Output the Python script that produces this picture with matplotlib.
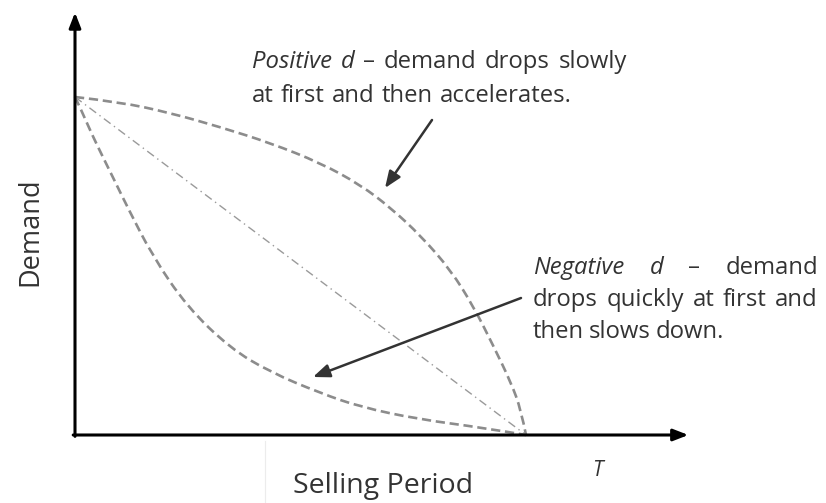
import matplotlib
matplotlib.use("Agg")
import matplotlib.pyplot as plt
from matplotlib.path import Path
from matplotlib.patches import PathPatch

# Curves (time as share of T, demand as share of start)
pos_t = [0, 0.1, 0.211, 0.322, 0.433, 0.544, 0.633, 0.7, 0.767, 0.833, 0.884, 0.929, 0.967, 0.989, 1.0]
pos_d = [1.0, 0.985, 0.953, 0.911, 0.864, 0.805, 0.740, 0.672, 0.589, 0.488, 0.379, 0.260, 0.154, 0.074, 0.0]
neg_t = [0, 0.011, 0.038, 0.062, 0.089, 0.116, 0.173, 0.249, 0.344, 0.433, 0.544, 0.633, 0.760, 0.907, 1.0]
neg_d = [1.0, 0.970, 0.888, 0.822, 0.749, 0.675, 0.527, 0.379, 0.257, 0.186, 0.124, 0.083, 0.047, 0.021, 0.0]
lin_t = [0, 1.0]
lin_d = [1.0, 0.0]

W, H = 826, 503
fig = plt.figure(figsize=(W / 100, H / 100), dpi=100)
ax = fig.add_axes([0, 0, 1, 1])
# origin at pixel (75, 435), T at x=526, start demand at y=97
ax.set_xlim(-75 / 451, (W - 75) / 451)
ax.set_ylim(-(H - 435) / 338, 435 / 338)
ax.axis("off")

font = "Open Sans"
fs = 17.2
tc = "#333333"

# axes with arrows
ax.annotate("", xy=(0, 1.25), xytext=(0, -0.004),
            arrowprops=dict(arrowstyle="-|>,head_length=0.9,head_width=0.35", color="black", lw=2.2,
                            shrinkA=0, shrinkB=0))
ax.annotate("", xy=(1.36, 0), xytext=(-0.004, 0),
            arrowprops=dict(arrowstyle="-|>,head_length=0.9,head_width=0.35", color="black", lw=2.2,
                            shrinkA=0, shrinkB=0))


def smooth_curve(xs, ys, **kw):
    # quadratic B-spline style path through the read points
    pts = list(zip(xs, ys))
    verts = [pts[0]]
    codes = [Path.MOVETO]
    for i in range(1, len(pts) - 1):
        nxt = pts[i + 1] if i == len(pts) - 2 else ((pts[i][0] + pts[i + 1][0]) / 2,
                                                    (pts[i][1] + pts[i + 1][1]) / 2)
        verts += [pts[i], nxt]
        codes += [Path.CURVE3, Path.CURVE3]
    ax.add_patch(PathPatch(Path(verts, codes), fill=False, **kw))


smooth_curve(pos_t, pos_d, edgecolor="#8c8c8c", lw=1.9, linestyle=(0, (3.5, 1.8)))
smooth_curve(neg_t, neg_d, edgecolor="#8c8c8c", lw=1.9, linestyle=(0, (3.5, 1.8)))
l3, = ax.plot(lin_t, lin_d, color="#9a9a9a", lw=1.0)
l3.set_dashes([6, 3, 1, 3])

# pointer arrows
ax.annotate("", xy=((385 - 75) / 451, (435 - 188) / 338), xytext=((432 - 75) / 451, (435 - 120) / 338),
            arrowprops=dict(arrowstyle="-|>,head_length=1.0,head_width=0.4", color="#333333", lw=1.8,
                            shrinkA=0, shrinkB=0))
ax.annotate("", xy=((313 - 75) / 451, (435 - 377) / 338), xytext=((521 - 75) / 451, (435 - 298) / 338),
            arrowprops=dict(arrowstyle="-|>,head_length=1.0,head_width=0.4", color="#333333", lw=1.8,
                            shrinkA=0, shrinkB=0))

# faint scan line under the axis
ax.plot([(265 - 75) / 451] * 2, [-(441 - 435) / 338, -(H - 435) / 338], color="#ececec", lw=0.8)

renderer = fig.canvas.get_renderer()


def put_words(words, x0, py, x1=None, gap=None):
    """words: list of (text, italic). Justified between x0 and x1 if x1 is given."""
    arts = []
    widths = []
    for w, it in words:
        t = fig.text(0, 1 - py / H, w, fontsize=fs, family=font, color=tc,
                     style="italic" if it else "normal", va="center", ha="left")
        arts.append(t)
        widths.append(t.get_window_extent(renderer).width)
    if x1 is not None and len(words) > 1:
        gap = (x1 - x0 - sum(widths)) / (len(words) - 1)
    x = x0
    for t, w in zip(arts, widths):
        t.set_x(x / W)
        x += w + gap


sp = 7
put_words([("Positive", True), ("d", True), ("–", False), ("demand", False),
           ("drops", False), ("slowly", False)], 252, 62, x1=627)
put_words([(w, False) for w in "at first and then accelerates.".split()], 252, 96, gap=sp)

put_words([("Negative", True), ("d", True), ("–", False), ("demand", False)], 533, 268, x1=818)
put_words([(w, False) for w in "drops quickly at first and".split()], 533, 300, x1=818)
put_words([(w, False) for w in "then slows down.".split()], 533, 332, gap=sp - 2)

# axis labels
fig.text(30 / W, 1 - 232 / H, "Demand", fontsize=19.5, family=font, color=tc, rotation=90,
         va="center", ha="center")
fig.text(383 / W, 1 - 486 / H, "Selling Period", fontsize=20.5, family=font, color=tc,
         va="center", ha="center")
fig.text(597 / W, 1 - 470 / H, "T", fontsize=15, family=font, style="italic", color=tc,
         va="center", ha="center")

fig.savefig("out.png", dpi=100)
